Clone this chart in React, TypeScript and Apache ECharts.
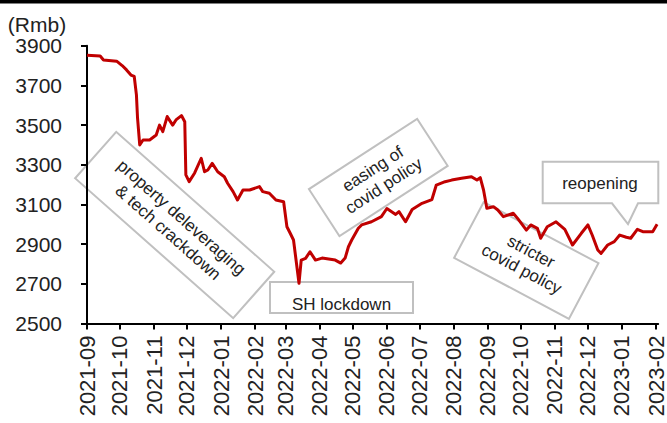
import React, { useEffect, useRef } from "react";
import * as echarts from "echarts";

const dates: string[] = [
  "2021-09-01", "2021-09-13", "2021-09-16", "2021-09-28", "2021-10-03", "2021-10-07", "2021-10-11", "2021-10-14",
  "2021-10-16", "2021-10-17", "2021-10-19", "2021-10-22", "2021-10-28", "2021-11-03", "2021-11-06", "2021-11-09",
  "2021-11-13", "2021-11-18", "2021-11-21", "2021-11-26", "2021-11-29", "2021-11-30", "2021-12-03", "2021-12-08",
  "2021-12-14", "2021-12-17", "2021-12-20", "2021-12-24", "2021-12-29", "2022-01-04", "2022-01-07", "2022-01-12",
  "2022-01-16", "2022-01-21", "2022-01-27", "2022-02-05", "2022-02-08", "2022-02-14", "2022-02-20", "2022-02-27",
  "2022-03-02", "2022-03-05", "2022-03-08", "2022-03-13", "2022-03-15", "2022-03-19", "2022-03-23", "2022-03-28",
  "2022-04-03", "2022-04-15", "2022-04-20", "2022-04-24", "2022-04-27", "2022-04-30", "2022-05-06", "2022-05-09",
  "2022-05-18", "2022-05-27", "2022-06-01", "2022-06-09", "2022-06-12", "2022-06-18", "2022-06-24", "2022-07-03",
  "2022-07-12", "2022-07-16", "2022-07-24", "2022-07-30", "2022-08-08", "2022-08-17", "2022-08-22", "2022-08-25",
  "2022-08-28", "2022-08-31", "2022-09-06", "2022-09-10", "2022-09-15", "2022-09-24", "2022-09-28", "2022-10-06",
  "2022-10-10", "2022-10-16", "2022-10-19", "2022-10-25", "2022-11-02", "2022-11-10", "2022-11-17", "2022-11-25",
  "2022-12-01", "2022-12-05", "2022-12-10", "2022-12-13", "2022-12-19", "2022-12-25", "2022-12-30", "2023-01-05",
  "2023-01-09", "2023-01-15", "2023-01-20", "2023-01-29", "2023-02-02",
];

const prices: number[] = [
  3852, 3848, 3828, 3822, 3800, 3778, 3752, 3745,
  3652, 3536, 3400, 3425, 3425, 3450, 3500, 3467,
  3543, 3500, 3526, 3548, 3517, 3249, 3215, 3259,
  3333, 3265, 3274, 3307, 3265, 3240, 3207, 3165,
  3123, 3173, 3173, 3190, 3165, 3157, 3123, 3114,
  2988, 2955, 2921, 2703, 2820, 2829, 2862, 2820,
  2830, 2820, 2805, 2830, 2887, 2921, 2980, 2997,
  3013, 3039, 3080, 3050, 3064, 3013, 3075, 3106,
  3125, 3198, 3215, 3223, 3232, 3240, 3223, 3235,
  3173, 3081, 3089, 3072, 3039, 3056, 3030, 2971,
  2997, 2980, 2930, 2988, 3013, 2975, 2896, 2955,
  2997, 2945, 2871, 2854, 2896, 2913, 2946, 2935,
  2930, 2975, 2963, 2963, 3000,
];

const monthTicks: string[] = [
  "2021-09", "2021-10", "2021-11", "2021-12", "2022-01", "2022-02", "2022-03", "2022-04", "2022-05",
  "2022-06", "2022-07", "2022-08", "2022-09", "2022-10", "2022-11", "2022-12", "2023-01", "2023-02",
];

const yMin = 2500;
const yMax = 3900;
const yStep = 200;
const unitLabel = "(Rmb)";

const FONT = "'Liberation Sans', Arial, sans-serif";
const TEXT_COLOR = "#222222";
const BOX = "#c0c0c0";

function toTs(s: string): number {
  const p = s.split("-").map((v) => parseInt(v, 10));
  return new Date(p[0], p[1] - 1, p.length > 2 ? p[2] : 1).getTime();
}

function fmtMonth(v: number): string {
  const d = new Date(v);
  return d.getFullYear() + "-" + String(d.getMonth() + 1).padStart(2, "0");
}

function rotBox(cx: number, cy: number, w: number, h: number, deg: number, text: string) {
  return {
    type: "group",
    x: cx,
    y: cy,
    rotation: (deg * Math.PI) / 180,
    z: 1,
    children: [
      {
        type: "rect",
        shape: { x: -w / 2, y: -h / 2, width: w, height: h },
        style: { fill: "none", stroke: BOX, lineWidth: 2 },
      },
      {
        type: "text",
        style: {
          text,
          x: 0,
          y: 0,
          align: "center",
          verticalAlign: "middle",
          font: `17px ${FONT}`,
          lineHeight: 20,
          fill: TEXT_COLOR,
        },
      },
    ],
  };
}

export default function App() {
  const ref = useRef<HTMLDivElement>(null);
  useEffect(() => {
    if (!ref.current) return;
    const chart = echarts.init(ref.current, null, { renderer: "svg" });
    const seriesData = dates.map((d, i) => [toTs(d), prices[i]]);
    const tickTs = monthTicks.map(toTs);
    const option: any = {
      animation: false,
      backgroundColor: "#ffffff",
      grid: { left: 87, right: 7, top: 45.7, bottom: 99.4, containLabel: false },
      xAxis: {
        type: "value",
        min: toTs("2021-09-01"),
        max: toTs("2023-02-03"),
        axisLine: { show: true, lineStyle: { color: "#000", width: 2 } },
        axisTick: { show: true, length: 6, lineStyle: { color: "#000", width: 2 }, customValues: tickTs },
        axisLabel: {
          customValues: tickTs,
          rotate: 90,
          margin: 12,
          fontSize: 22,
          fontFamily: FONT,
          color: TEXT_COLOR,
          formatter: (v: number) => fmtMonth(v),
        },
        splitLine: { show: false },
      },
      yAxis: {
        type: "value",
        min: yMin,
        max: yMax,
        interval: yStep,
        axisLine: { show: true, lineStyle: { color: "#000", width: 2 } },
        axisTick: { show: true, length: 6, lineStyle: { color: "#000", width: 2 } },
        axisLabel: {
          margin: 25,
          fontSize: 21,
          fontFamily: FONT,
          color: TEXT_COLOR,
          formatter: (v: number) => String(v),
        },
        splitLine: { show: false },
      },
      series: [
        {
          type: "line",
          data: seriesData,
          showSymbol: false,
          symbol: "none",
          z: 5,
          lineStyle: { color: "#C00000", width: 3, join: "round" },
          itemStyle: { color: "#C00000" },
        },
      ],
      graphic: [
        { type: "rect", x: 0, y: 0, shape: { x: 0, y: 0, width: 667, height: 3.5 }, style: { fill: "#000" } },
        {
          type: "text",
          x: 37,
          y: 24,
          style: { text: unitLabel, align: "center", verticalAlign: "middle", font: `21px ${FONT}`, fill: TEXT_COLOR },
        },
        rotBox(174.7, 225, 211, 62, -41.5, "property deleveraging\n& tech crackdown"),
        rotBox(378.3, 177.5, 129, 56, 33, "easing of\ncovid policy"),
        rotBox(526.3, 260.5, 130, 63, -28, "stricter\ncovid policy"),
        {
          type: "rect",
          z: 1,
          shape: { x: 270, y: 282, width: 143, height: 31 },
          style: { fill: "none", stroke: BOX, lineWidth: 2 },
        },
        {
          type: "text",
          x: 341.5,
          y: 304,
          z: 1,
          style: { text: "SH lockdown", align: "center", verticalAlign: "middle", font: `17px ${FONT}`, fill: TEXT_COLOR },
        },
        {
          type: "polygon",
          z: 1,
          shape: {
            points: [
              [542.7, 161.7], [658.3, 161.7], [658.3, 203.3], [638, 203.3], [628, 224], [612, 203.3], [542.7, 203.3],
            ],
          },
          style: { fill: "none", stroke: BOX, lineWidth: 2 },
        },
        {
          type: "text",
          x: 600,
          y: 183,
          z: 1,
          style: { text: "reopening", align: "center", verticalAlign: "middle", font: `17px ${FONT}`, fill: TEXT_COLOR },
        },
      ],
    };
    chart.setOption(option);
    return () => chart.dispose();
  }, []);
  return (
    <div
      ref={ref}
      style={{ position: "fixed", left: 0, top: 0, width: 667, height: 423, background: "#fff" }}
    />
  );
}
